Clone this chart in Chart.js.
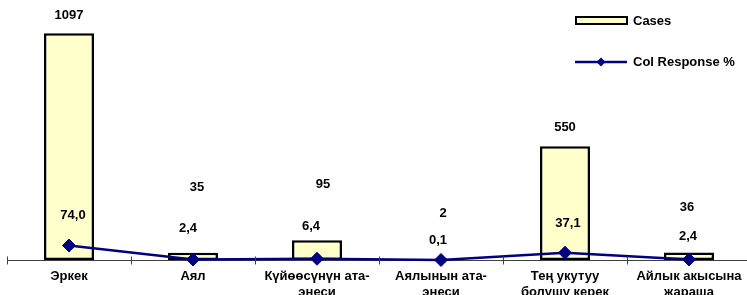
<!DOCTYPE html>
<html><head><meta charset="utf-8">
<script src="https://cdn.jsdelivr.net/npm/chart.js@4"></script>
<style>
html,body{margin:0;padding:0;overflow:hidden;background:#fff;width:747px;height:295px;}
#wrap{position:absolute;left:0;top:0;width:752px;height:300px;}
</style></head><body>
<div id="wrap"><canvas id="c"></canvas></div>
<script>
// ---- data ----
const categories = [['Эркек'], ['Аял'], ['Күйөөсүнүн ата-', 'энеси'], ['Аялынын ата-', 'энеси'], ['Тең укутуу', 'болушу керек'], ['Айлык акысына', 'жараша']];
const cases = [1097, 35, 95, 2, 550, 36];
const colResponse = [74.0, 2.4, 6.4, 0.1, 37.1, 2.4];
const seriesNames = ['Cases', 'Col Response %'];

// ---- label placement (style) ----
const casesLabelDx = [0, 4, 6, 2, 0, -2];
const casesLabelDy = [-18, -65, -56, -46, -19, -45];
const pctLabelDx = [4, -5, -6, -3, 3, -1];
const pctLabelDy = [-30, -31, -32, -20, -29, -23];

const FONT = 'bold 13px "Liberation Sans", Arial, sans-serif';
const BAR_FILL = '#FFFFCC';
const LINE_COLOR = '#000080';
const AXIS_COLOR = '#404040';

const dataLabels = {
  id: 'dataLabels',
  afterDatasetsDraw(chart) {
    const ctx = chart.ctx;
    ctx.save();
    ctx.font = FONT;
    ctx.fillStyle = '#000';
    ctx.textAlign = 'center';
    ctx.textBaseline = 'middle';
    chart.data.datasets.forEach((ds, di) => {
      const meta = chart.getDatasetMeta(di);
      meta.data.forEach((el, i) => {
        let txt, dx, dy;
        if (ds.type === 'bar') {
          txt = String(ds.data[i]); dx = casesLabelDx[i]; dy = casesLabelDy[i];
        } else {
          txt = ds.data[i].toFixed(1).replace('.', ','); dx = pctLabelDx[i]; dy = pctLabelDy[i];
        }
        ctx.fillText(txt, el.x + dx, el.y + dy);
      });
    });
    ctx.restore();
  }
};

const axisTicks = {
  id: 'axisTicks',
  afterDraw(chart) {
    const ctx = chart.ctx;
    const xs = chart.scales.x;
    const n = chart.data.labels.length;
    const w = xs.width / n;
    const y = Math.round(chart.chartArea.bottom) + 0.5;
    ctx.save();
    ctx.strokeStyle = AXIS_COLOR;
    ctx.lineWidth = 1;
    ctx.beginPath();
    for (let i = 0; i <= n; i++) {
      const x = Math.round(xs.left + i * w) + 0.5;
      ctx.moveTo(x, y - 4);
      ctx.lineTo(x, y + 4);
    }
    ctx.stroke();
    ctx.restore();
  }
};

const customLegend = {
  id: 'customLegend',
  afterDraw(chart) {
    const ctx = chart.ctx;
    const bar = chart.data.datasets.find(d => d.type === 'bar');
    const line = chart.data.datasets.find(d => d.type === 'line');
    ctx.save();
    ctx.fillStyle = bar.backgroundColor;
    ctx.strokeStyle = bar.borderColor;
    ctx.lineWidth = 2;
    ctx.fillRect(576, 17, 51, 7);
    ctx.strokeRect(576, 17, 51, 7);
    ctx.strokeStyle = line.borderColor;
    ctx.lineWidth = 2.5;
    ctx.beginPath();
    ctx.moveTo(575, 62);
    ctx.lineTo(627, 62);
    ctx.stroke();
    ctx.fillStyle = line.borderColor;
    ctx.beginPath();
    ctx.moveTo(601, 57.5); ctx.lineTo(605.5, 62); ctx.lineTo(601, 66.5); ctx.lineTo(596.5, 62);
    ctx.closePath(); ctx.fill();
    ctx.fillStyle = '#000';
    ctx.font = FONT;
    ctx.textAlign = 'left';
    ctx.textBaseline = 'middle';
    ctx.fillText(bar.label, 633, 21);
    ctx.fillText(line.label, 633, 62.5);
    ctx.restore();
  }
};

new Chart(document.getElementById('c'), {
  data: {
    labels: categories,
    datasets: [
      {
        type: 'line', label: seriesNames[1], data: colResponse, yAxisID: 'y1', order: 0,
        borderColor: LINE_COLOR, backgroundColor: LINE_COLOR, borderWidth: 2.5,
        pointStyle: 'rectRot', pointRadius: 6.5, pointBorderWidth: 1,
        pointBackgroundColor: LINE_COLOR, pointBorderColor: LINE_COLOR,
        tension: 0, clip: false
      },
      {
        type: 'bar', label: seriesNames[0], data: cases, yAxisID: 'y', order: 1,
        backgroundColor: BAR_FILL, borderColor: '#000', borderWidth: 2.5, borderSkipped: false,
        barPercentage: 50 / 124, categoryPercentage: 1
      }
    ]
  },
  options: {
    responsive: true,
    maintainAspectRatio: false,
    animation: false,
    devicePixelRatio: 1,
    layout: { autoPadding: false, padding: { left: 7, right: 1, top: 12, bottom: 0 } },
    plugins: { legend: { display: false }, tooltip: { enabled: false } },
    scales: {
      x: {
        grid: { display: false, drawTicks: false },
        border: { display: true, color: AXIS_COLOR, width: 1 },
        ticks: {
          color: '#000', maxRotation: 0, minRotation: 0, autoSkip: false, padding: 8,
          font: { family: '"Liberation Sans", Arial, sans-serif', size: 13, weight: 'bold', lineHeight: 1.23 }
        },
        afterFit(scale) { scale.height = 40; scale.paddingLeft = 0; scale.paddingRight = 0; }
      },
      y: { display: false, min: 0, max: 1200 },
      y1: { display: false, min: 0, max: 1270 }
    }
  },
  plugins: [dataLabels, axisTicks, customLegend]
});
</script>
</body></html>
